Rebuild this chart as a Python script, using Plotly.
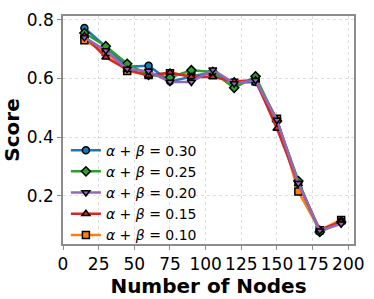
import plotly.graph_objects as go

nodes = [15, 30, 45, 60, 75, 90, 105, 120, 135, 150, 165, 180, 195]
s030 = [0.772, 0.708, 0.640, 0.643, 0.590, 0.605, 0.622, 0.586, 0.588, 0.455, 0.245, 0.078, 0.112]
s025 = [0.755, 0.710, 0.650, 0.612, 0.603, 0.628, 0.622, 0.568, 0.607, 0.455, 0.250, 0.076, 0.110]
s020 = [0.740, 0.695, 0.632, 0.625, 0.588, 0.588, 0.630, 0.583, 0.594, 0.458, 0.242, 0.080, 0.104]
s015 = [0.745, 0.672, 0.630, 0.610, 0.620, 0.605, 0.605, 0.590, 0.594, 0.429, 0.240, 0.084, 0.110]
s010 = [0.730, 0.690, 0.625, 0.612, 0.618, 0.610, 0.615, 0.585, 0.590, 0.462, 0.214, 0.082, 0.117]
labels = ["0.30", "0.25", "0.20", "0.15", "0.10"]
xticks = [0, 25, 50, 75, 100, 125, 150, 175, 200]
yticks = [0.2, 0.4, 0.6, 0.8]

series = [s030, s025, s020, s015, s010]
colors = ["#1f77b4", "#2ca02c", "#9467bd", "#d62728", "#ff7f0e"]
symbols = ["circle", "diamond", "triangle-down", "triangle-up", "square"]
draw_order = [4, 0, 1, 3, 2]

fig = go.Figure()
for i in draw_order:
    vals, lab, c, sym = series[i], labels[i], colors[i], symbols[i]
    fig.add_trace(go.Scatter(
        x=nodes, y=vals, mode="lines+markers",
        name="<i>α</i> + <i>β</i> = " + lab,
        legendrank=i + 1,
        line=dict(color=c, width=2.5),
        marker=dict(symbol=sym, size=7, color=c, line=dict(color="black", width=1.5)),
    ))

axis_common = dict(
    showline=True, linecolor="#8c8c8c", linewidth=1.5, mirror=True,
    showgrid=True, gridcolor="#dedede", griddash="dot", gridwidth=1,
    ticks="outside", ticklen=4, tickcolor="#8c8c8c",
    tickfont=dict(family="DejaVu Sans", size=17, color="black"),
    zeroline=False,
)
fig.update_xaxes(range=[0, 204], tickvals=xticks,
                 title=dict(text="<b>Number of Nodes</b>", font=dict(family="DejaVu Sans", size=20, color="black"), standoff=1),
                 **axis_common)
fig.update_yaxes(range=[0.035, 0.813], tickvals=yticks, ticktext=["0.2", "0.4", "0.6", "0.8"],
                 title=dict(text="<b>Score</b>", font=dict(family="DejaVu Sans", size=20, color="black"), standoff=3),
                 **axis_common)

fig.update_layout(
    width=374, height=299,
    margin=dict(l=58, r=16, t=10, b=48),
    plot_bgcolor="white", paper_bgcolor="white",
    legend=dict(x=0.01, y=0.48, xanchor="left", yanchor="top",
                bgcolor="rgba(255,255,255,0)", tracegroupgap=0,
                font=dict(family="DejaVu Sans", size=14, color="black"),
                itemwidth=30),
)
fig.write_html("out.html", config={"displayModeBar": False},
               post_script="document.body.style.margin='0';document.body.style.padding='0';")
